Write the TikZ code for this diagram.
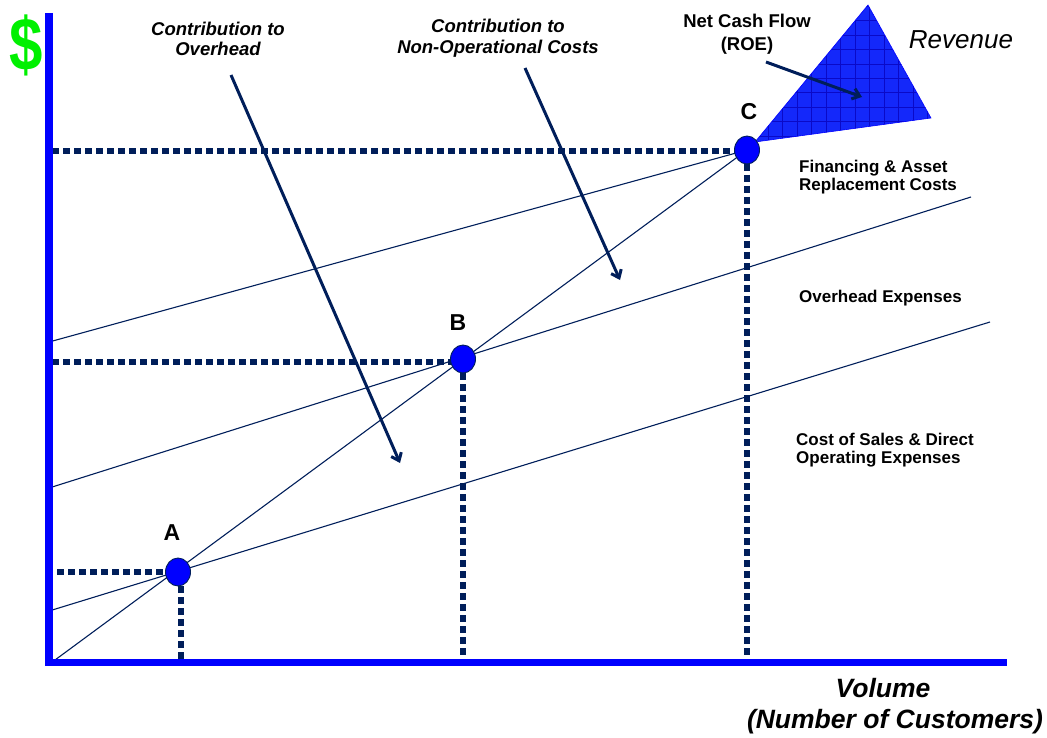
\documentclass[tikz,border=0pt]{standalone}
\usepackage{fontspec}
\setmainfont{Liberation Sans}
\usetikzlibrary{arrows.meta,shapes.geometric}
\definecolor{navy}{RGB}{0,30,90}
\definecolor{axisblue}{RGB}{0,0,255}
\definecolor{dollargreen}{RGB}{0,240,0}
\definecolor{revfill}{RGB}{20,40,250}
\definecolor{revgrid}{RGB}{10,10,200}
\begin{document}
\begin{tikzpicture}[x=1pt,y=-1pt,
  thinline/.style={navy,line width=1.1pt},
  dotline/.style={navy,line width=6pt,dash pattern=on 7pt off 4pt},
  axisline/.style={axisblue,line width=7.5pt},
  pointmark/.style={ellipse,fill=axisblue,draw=navy,line width=0.9pt,minimum width=25pt,minimum height=28pt,inner sep=0pt},
  callout/.style={navy,line width=3pt,-{Straight Barb[length=7pt,width=11pt]}},
  sidelbl/.style={font=\fontsize{17}{18.5}\selectfont\bfseries,align=left,anchor=west,inner sep=0pt},
  ptlbl/.style={font=\fontsize{23}{23}\selectfont\bfseries,inner sep=0pt},
  ctitle/.style={font=\fontsize{18.5}{20.5}\selectfont\bfseries\itshape,align=center,inner sep=0pt}
]
\useasboundingbox (0,0) rectangle (1047,738);

% key coordinates
\coordinate (O) at (55,660);
\coordinate (costL) at (49,611);
\coordinate (costR) at (990,322);
\coordinate (ohL) at (49,488);
\coordinate (ohR) at (971,197);
\coordinate (finL) at (49,342);
\coordinate (hA) at (57,572);
\coordinate (hB) at (52,361.5);
\coordinate (hC) at (52,151.5);
\coordinate (axY) at (0,662);
\coordinate (axTop) at (49,13);
\coordinate (axCorner) at (49,666);
\coordinate (axStart) at (45,662.5);
\coordinate (axEnd) at (1007,662.5);
\coordinate (T1) at (755,142);
\coordinate (T2) at (868,5);
\coordinate (T3) at (931,118);

% point positions
\path (178,572) coordinate (Apos) (463,359) coordinate (Bpos) (747,150) coordinate (Cpos);

% thin cost lines
\draw[thinline] (O) -- (Cpos);
\draw[thinline] (costL) -- (costR);
\draw[thinline] (ohL) -- (ohR);
\draw[thinline] (finL) -- (Cpos);

% dotted guide lines
\draw[dotline] (hA) -- (hA -| 166,0);
\draw[dotline] ([xshift=3pt]Apos) ++(0,14) -- ([xshift=3pt]Apos |- axY);
\draw[dotline] (hB) -- (hB -| 451,0);
\draw[dotline] (Bpos) ++(0,14) -- (Bpos |- axY);
\draw[dotline] (hC) -- (hC -| 735,0);
\draw[dotline] (Cpos) ++(0,14) -- (Cpos |- axY);

% axes
\draw[axisline] (axTop) -- (axCorner);
\draw[axisline] (axStart) -- (axEnd);

% revenue triangle
\begin{scope}
  \clip (T1) -- (T2) -- (T3) -- cycle;
  \fill[revfill] (T1) -- (T2) -- (T3) -- cycle;
  \foreach \gx in {739.2,753.7,...,940} \draw[revgrid,line width=0.7pt] (\gx,0) -- (\gx,150);
  \foreach \gy in {6.3,20.7,...,150} \draw[revgrid,line width=0.7pt] (740,\gy) -- (940,\gy);
\end{scope}
\draw[axisblue,line width=0.6pt] (T1) -- (T2) -- (T3) -- cycle;

% points
\node[pointmark] (A) at (Apos) {};
\node[pointmark] (B) at (Bpos) {};
\node[pointmark] (C) at (Cpos) {};

% point labels
\node[ptlbl] (Alab) at (172,533) {A};
\node[ptlbl] (Blab) at (458,323) {B};
\node[ptlbl] (Clab) at (749,112) {C};

% titles and callouts
\node[ctitle] (co) at (218,39) {Contribution to\\Overhead};
\node[ctitle] (cn) at (498,38) {Contribution to\\Non-Operational Costs};
\node[font=\fontsize{18.5}{22.5}\selectfont\bfseries,align=center,inner sep=0pt] (ncf) at (747,34) {Net Cash Flow\\(ROE)};
\node[font=\fontsize{26}{30}\selectfont\itshape,inner sep=0pt] (rev) at (961,40) {Revenue};

\coordinate (coS) at (231,75);
\coordinate (coE) at (400,463);
\coordinate (cnS) at (525,68);
\coordinate (cnE) at (620,280);
\coordinate (ncfS) at (766,62);
\coordinate (ncfE) at (862,97);
\draw[callout] (coS) -- (coE);
\draw[callout] (cnS) -- (cnE);
\draw[callout] (ncfS) -- (ncfE);

% side labels
\node[sidelbl] (fin) at (799,177) {Financing \& Asset\\Replacement Costs};
\node[sidelbl] (ohx) at (799,298) {Overhead Expenses};
\node[sidelbl] (cos) at (796,450) {Cost of Sales \& Direct\\Operating Expenses};

% axis labels
\node[font=\fontsize{60}{60}\selectfont\bfseries,text=dollargreen,inner sep=0pt] (dollar) at (26,45) {\scalebox{1}[1.25]{\$}};
\node[font=\fontsize{26.5}{31}\selectfont\bfseries\itshape,align=center,inner sep=0pt] (vol) at (895,706) {Volume\hspace*{24pt}\\(Number of Customers)};
\end{tikzpicture}
\end{document}
